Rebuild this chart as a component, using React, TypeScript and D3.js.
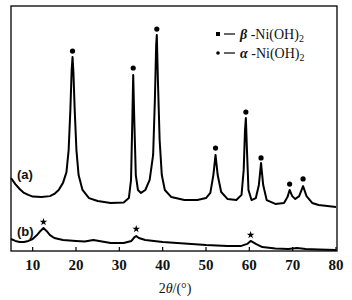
import React from "react";
import * as d3 from "d3";

// 2θ (deg), intensity (a.u.) for pattern (a)
const curveA2theta = [5,6,7,8,9,10,12,14,15,16,17,17.8,18.3,18.7,19.0,19.2,19.4,19.7,20.1,20.6,21.5,23,25,28,31,32.2,32.7,33.0,33.2,33.45,33.8,34.3,35,36,37,37.8,38.2,38.5,38.65,38.9,39.3,39.8,40.5,42,45,48,50,51,51.7,52.2,52.7,53.5,55,57,58.2,58.7,59.0,59.2,59.45,59.8,60.5,61.5,62.2,62.7,63.2,64,66,68,68.8,69.3,69.9,70.6,71.5,72.4,73.2,74.5,76,78,80];
const curveAIntensity = [29.8,27.3,25.3,23.7,22.9,22.2,22.0,22.4,23.3,24.9,27.8,32.2,41.2,57.6,73.9,79.2,73.1,57.6,41.2,31,24.9,21.6,20.4,19.6,19.8,21.6,29,53.5,71.8,53.5,31,24.9,23.7,24.9,29,39.2,61.6,84.1,88.2,69.8,45.3,31,24.9,22,20.8,20.8,21.6,23.7,31,39.2,31,24.1,21.2,20.8,22.9,33.1,49.4,54.3,41.2,24.9,20.8,21.6,26.9,35.9,26.9,20.8,19.2,19.6,22,24.9,22.4,21.2,22.4,26.5,22.4,19.6,18.8,18.4,18];

// pattern (b)
const curveB2theta = [5,6,7,8,9,10,11,11.8,12.5,13.2,14,15,17,20,22,24,26,28,31,32.8,33.5,33.9,34.5,36,40,45,50,55,58,59.5,60.3,61.5,63,66,69,71,73,76,80];
const curveBIntensity = [4.9,4.1,3.7,3.7,4.1,4.9,6.5,8.2,9.4,8.2,6.5,5.3,4.5,4.1,3.9,4.5,3.9,3.3,3.3,4.1,5.7,6.1,5.3,4.5,3.7,3.1,2.4,2.0,2.0,2.9,4.1,2.9,1.6,1.0,0.8,1.2,0.8,0.6,0.4];

// peak markers
const betaPeak2theta = [19.2, 33.2, 38.65, 52.2, 59.2, 62.7, 69.3, 72.4];
const betaPeakIntensity = [81.6, 74.7, 90.6, 42, 56.7, 38, 27.3, 29.4];
const alphaPeak2theta = [12.5, 33.9, 60.3];
const alphaPeakIntensity = [11.8, 9, 6.5];

const xTicks = [10, 20, 30, 40, 50, 60, 70, 80];

export default function App() {
  const left = 11, right = 337, top = 6, bottom = 251;
  const x = d3.scaleLinear().domain([5, 80]).range([11, 336]);
  const y = d3.scaleLinear().domain([0, 100]).range([251, 6]);
  const line = d3.line<[number, number]>().x(d => x(d[0])).y(d => y(d[1]));
  const a = curveA2theta.map((t, i) => [t, curveAIntensity[i]] as [number, number]);
  const b = curveB2theta.map((t, i) => [t, curveBIntensity[i]] as [number, number]);
  const star = d3.symbol().type(d3.symbolStar).size(18)() as string;
  const serif = "'Liberation Serif', 'DejaVu Serif', serif";
  return (
    <svg width={352} height={300} style={{ position: "absolute", left: 0, top: 0, background: "#fff" }}>
      <rect x={left} y={top} width={right - left} height={bottom - top} fill="none" stroke="#000" strokeWidth={1.3} />
      {xTicks.map(t => (
        <g key={t}>
          <line x1={x(t)} x2={x(t)} y1={bottom} y2={bottom - 4} stroke="#000" strokeWidth={1.2} />
          <text x={x(t)} y={270} textAnchor="middle" fontFamily={serif} fontSize={15} fontWeight="bold" fill="#111">{t}</text>
        </g>
      ))}
      <text x={175} y={293} textAnchor="middle" fontFamily={serif} fontSize={14} fill="#111">
        2<tspan fontStyle="italic">θ</tspan>/(°)
      </text>
      <path d={line(a) as string} fill="none" stroke="#000" strokeWidth={2} strokeLinejoin="round" />
      <path d={line(b) as string} fill="none" stroke="#000" strokeWidth={2} strokeLinejoin="round" />
      {betaPeak2theta.map((t, i) => (
        <circle key={i} cx={x(t)} cy={y(betaPeakIntensity[i])} r={2.6} fill="#000" />
      ))}
      {alphaPeak2theta.map((t, i) => (
        <path key={i} d={star} transform={`translate(${x(t)},${y(alphaPeakIntensity[i])})`} fill="#000" />
      ))}
      <text x={17} y={179} fontFamily="'Liberation Sans', Arial, sans-serif" fontSize={13} fontWeight="bold" fill="#111">(a)</text>
      <text x={17} y={236} fontFamily="'Liberation Sans', Arial, sans-serif" fontSize={13} fontWeight="bold" fill="#111">(b)</text>
      {/* legend */}
      <rect x={216} y={32} width={4} height={4} fill="#000" />
      <line x1={224} x2={235} y1={34} y2={34} stroke="#000" strokeWidth={1.2} />
      <text x={240} y={39} fontFamily={serif} fontSize={14} fill="#111">
        <tspan fontStyle="italic" fontWeight="bold">β</tspan> -Ni(OH)<tspan fontSize={10} dy={3}>2</tspan>
      </text>
      <circle cx={218} cy={53} r={1.8} fill="#000" />
      <line x1={224} x2={235} y1={53} y2={53} stroke="#000" strokeWidth={1.2} />
      <text x={240} y={58} fontFamily={serif} fontSize={14} fill="#111">
        <tspan fontStyle="italic" fontWeight="bold">α</tspan> -Ni(OH)<tspan fontSize={10} dy={3}>2</tspan>
      </text>
    </svg>
  );
}
